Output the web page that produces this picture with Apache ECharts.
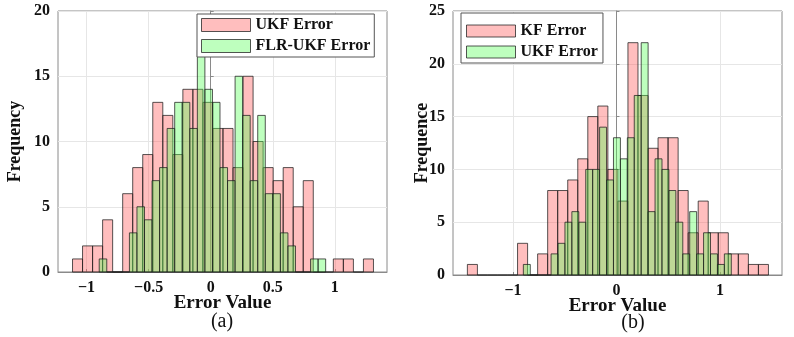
<!DOCTYPE html>
<html>
  <head>
    <meta charset="UTF-8" />
    <title>Error histograms</title>
    <script src="https://cdn.jsdelivr.net/npm/echarts@6/dist/echarts.min.js"></script>
    <style>
      html, body { margin: 0; padding: 0; background: #fff; }
    </style>
  </head>
  <body>
    <div id="main" style="width: 794px; height: 337px"></div>
    <script>
      // (a) 30 bins per series, counts
      const ukfStartA = -1.113;
      const ukfWidthA = 0.0808;
      const ukfCountsA = [1, 2, 2, 4, 0, 6, 8, 9, 13, 12, 9, 14, 14, 13, 11, 11, 8, 15, 10, 8, 7, 8, 5, 7, 0, 0, 1, 1, 0, 1];
      const flrStartA = -0.898;
      const flrWidthA = 0.0608;
      const flrCountsA = [1, 0, 0, 0, 3, 5, 4, 7, 8, 11, 13, 13, 11, 17, 14, 13, 8, 7, 15, 12, 7, 12, 6, 6, 3, 2, 0, 0, 1, 1];

      // (b)
      const kfStartB = -1.441;
      const kfWidthB = 0.097;
      const kfCountsB = [1, 0, 0, 0, 0, 3, 0, 2, 8, 8, 9, 11, 15, 16, 10, 7, 22, 17, 12, 13, 13, 8, 4, 7, 4, 4, 2, 2, 1, 1];
      const ukfStartB = -0.9;
      const ukfWidthB = 0.067;
      const ukfCountsB = [1, 0, 0, 0, 2, 3, 5, 6, 5, 10, 10, 14, 9, 13, 11, 13, 17, 22, 6, 11, 10, 8, 5, 2, 6, 2, 4, 2, 1, 2];

      const xTicksA = [-1, -0.5, 0, 0.5, 1];
      const xTicksB = [-1, 0, 1];

      const serif = 'Liberation Serif';
      const redFill = 'rgba(255, 86, 86, 0.385)';
      const greenFill = 'rgba(86, 255, 86, 0.385)';
      const edge = 'rgba(30, 30, 30, 0.75)';

      function bins(start, width, counts) {
        return counts.map((c, i) => [start + i * width, start + (i + 1) * width, c]);
      }

      function histSeries(name, data, fill, idx) {
        return {
          name: name,
          type: 'custom',
          xAxisIndex: idx,
          yAxisIndex: idx,
          data: data,
          encode: { x: [0, 1], y: 2 },
          itemStyle: { color: fill },
          renderItem: (params, api) => {
            const p0 = api.coord([api.value(0), 0]);
            const p1 = api.coord([api.value(1), api.value(2)]);
            return {
              type: 'rect',
              shape: { x: p0[0], y: p1[1], width: p1[0] - p0[0], height: p0[1] - p1[1] },
              style: { fill: fill, stroke: edge, lineWidth: 1 },
            };
          },
        };
      }

      const minus = (v) => String(v).replace('-', '\u2212');

      function xAxis(idx, min, max, ticks) {
        return {
          type: 'value',
          gridIndex: idx,
          min: min,
          max: max,
          name: 'Error Value',
          nameLocation: 'middle',
          nameGap: 22,
          nameMoveOverlap: false,
          nameTextStyle: { fontFamily: serif, fontWeight: 'bold', fontSize: 19, color: '#111', verticalAlign: 'top' },
          axisLine: { show: true, lineStyle: { color: '#8a8a8a' } },
          axisTick: { show: true, inside: true, length: 3, customValues: ticks, lineStyle: { color: '#8a8a8a' } },
          axisLabel: {
            customValues: ticks,
            margin: 8,
            fontFamily: serif,
            fontWeight: 'bold',
            fontSize: 16,
            color: '#111',
            formatter: minus,
          },
          splitLine: { show: true, lineStyle: { color: '#e6e6e6' } },
        };
      }

      function yAxis(idx, max, name, gap) {
        return {
          type: 'value',
          gridIndex: idx,
          min: 0,
          max: max,
          interval: 5,
          name: name,
          nameLocation: 'middle',
          nameGap: gap,
          nameMoveOverlap: false,
          nameTextStyle: { fontFamily: serif, fontWeight: 'bold', fontSize: 18, color: '#111' },
          axisLine: { show: true, lineStyle: { color: '#8a8a8a' } },
          axisTick: { show: true, inside: true, length: 3, lineStyle: { color: '#8a8a8a' } },
          axisLabel: { margin: 8, fontFamily: serif, fontWeight: 'bold', fontSize: 16, color: '#111' },
          splitLine: { show: true, lineStyle: { color: '#e6e6e6' } },
        };
      }

      function legend(left, top, items, padding, itemHeight, textWidth) {
        return {
          orient: 'vertical',
          left: left,
          top: top,
          padding: padding,
          itemGap: 5,
          itemWidth: 49,
          itemHeight: itemHeight,
          icon: 'rect',
          backgroundColor: '#fff',
          borderColor: '#555',
          borderWidth: 1,
          borderRadius: 0,
          selectedMode: false,
          textStyle: { fontFamily: serif, fontWeight: 'bold', fontSize: 16, color: '#111', width: textWidth },
          data: items.map((it) => ({
            name: it[0],
            itemStyle: { color: it[1], borderColor: edge, borderWidth: 1 },
          })),
        };
      }

      const chart = echarts.init(document.getElementById('main'));
      chart.setOption({
        animation: false,
        backgroundColor: '#fff',
        grid: [
          { left: 58, right: 407, top: 11, bottom: 65, show: true, borderColor: '#8a8a8a', borderWidth: 1 },
          { left: 453, right: 12, top: 11, bottom: 62, show: true, borderColor: '#8a8a8a', borderWidth: 1 },
        ],
        xAxis: [xAxis(0, -1.23, 1.42, xTicksA), xAxis(1, -1.58, 1.6, xTicksB)],
        yAxis: [yAxis(0, 20, 'Frequency', 34), yAxis(1, 25, 'Frequence', 22)],
        legend: [
          legend(197, 14, [['UKF Error', redFill], ['FLR-UKF Error', greenFill]], [3, 4, 3, 4], 13, 128),
          legend(461, 13, [['KF Error', redFill], ['UKF Error', greenFill]], [10, 5, 3, 5], 12, 83),
        ],
        graphic: [
          { type: 'text', x: 222, y: 322, style: { text: '(a)', align: 'center', verticalAlign: 'middle', font: '20px "Liberation Serif"', fill: '#111' } },
          { type: 'text', x: 633, y: 323, style: { text: '(b)', align: 'center', verticalAlign: 'middle', font: '20px "Liberation Serif"', fill: '#111' } },
        ],
        series: [
          histSeries('UKF Error', bins(ukfStartA, ukfWidthA, ukfCountsA), redFill, 0),
          histSeries('FLR-UKF Error', bins(flrStartA, flrWidthA, flrCountsA), greenFill, 0),
          histSeries('KF Error', bins(kfStartB, kfWidthB, kfCountsB), redFill, 1),
          histSeries('UKF Error', bins(ukfStartB, ukfWidthB, ukfCountsB), greenFill, 1),
        ],
      });
    </script>
  </body>
</html>
